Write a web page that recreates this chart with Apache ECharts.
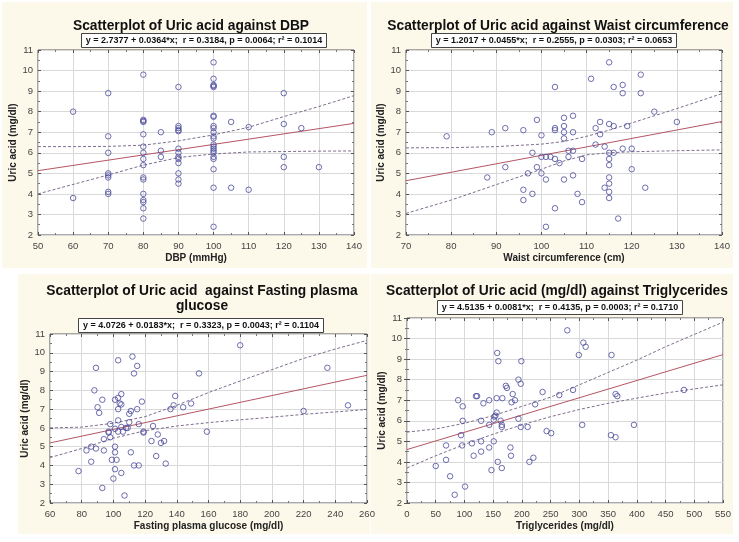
<!DOCTYPE html>
<html><head><meta charset="utf-8">
<script src="https://cdn.jsdelivr.net/npm/echarts@6/dist/echarts.min.js"></script>
<style>html,body{margin:0;padding:0;background:#fff}#c{width:739px;height:542px}</style>
</head><body><div id="c"></div>
<script>
// ---------- Panel 1: DBP ----------
const dbpX = [60,60,
  70,70,70,70,70,70,70,70,
  80,80,80,80,80,80,80,80,80,80,80,80,80,80,80,80,
  85,85,85,
  90,90,90,90,90,90,90,90,90,90,90,90,90,
  100,100,100,100,100,100,100,100,100,100,100,100,100,100,100,100,100,100,100,100,100,100,
  105,105,110,110,120,120,120,120,125,130];
const dbpY = [8.0,3.8,
  8.9,6.8,6.0,5.0,4.9,4.8,4.1,4.0,
  9.8,7.6,7.55,7.5,6.9,6.3,6.0,5.7,5.4,4.8,4.7,4.0,3.7,3.6,3.3,2.8,
  7.0,6.1,5.8,
  9.2,7.3,7.2,7.1,7.05,6.2,6.0,5.8,5.7,5.5,5.0,4.7,4.5,
  10.4,9.6,9.3,9.25,9.2,7.8,7.75,7.3,7.2,7.0,6.8,6.7,6.4,6.3,6.2,6.1,6.0,5.8,5.7,5.2,4.3,2.4,
  7.5,4.3,7.25,4.2,8.9,7.4,5.8,5.3,7.2,5.3];
const dbpFitX = [50,140], dbpFitY = [5.13,7.43];
const dbpBandX = [50,60,70,80,90,100,110,120,130,140];
const dbpUpper = [6.3,6.3,6.31,6.37,6.58,6.87,7.24,7.76,8.25,8.78];
const dbpLower = [4.0,4.46,4.92,5.4,5.77,5.94,6.04,6.06,6.08,6.09];

// ---------- Panel 2: Waist circumference ----------
const waistX = [79,88,89,92,92,96,96,96,97,98,98,99,99,100,100,100,101,101,101,102,
  103,103,103,103,103,104,105,105,105,105,105,106,106,107,107,107,107,108,109,109,
  111,112,112,113,113,114,114,115,115,115,115,115,115,115,115,115,116,116,116,117,
  118,118,118,119,120,120,122,122,123,125,130];
const waistY = [6.8,4.8,7.0,7.2,5.3,7.1,4.2,3.7,5.0,6.0,4.0,7.6,5.3,6.85,5.8,5.0,5.8,4.7,2.4,5.8,
  9.2,7.2,7.1,5.7,3.3,5.5,7.7,7.3,7.0,6.7,4.7,6.1,5.8,7.8,7.0,6.1,4.9,4.0,5.7,3.6,
  9.6,7.2,6.4,7.5,6.9,6.3,4.3,10.4,7.4,6.0,5.7,5.4,4.8,4.5,4.1,3.8,9.2,7.3,6.0,2.8,
  9.3,8.9,6.2,7.3,6.2,5.2,9.8,8.9,4.3,8.0,7.5];
const waistFitX = [70,140], waistFitY = [4.64,7.52];
const waistBandX = [70,80,90,100,105,110,115,120,130,140];
const waistUpper = [6.24,6.25,6.3,6.42,6.55,6.8,7.1,7.45,8.15,8.88];
const waistLower = [3.05,3.7,4.45,5.2,5.6,5.9,6.0,6.05,6.1,6.14];

// ---------- Panel 3: Fasting plasma glucose ----------
const gluX = [78,83,86,86,88,89,89,90,91,93,93,94,94,97,97,98,98,99,100,101,
  101,101,101,101,102,103,103,103,103,103,104,105,105,105,105,106,107,108,109,110,
  110,111,111,112,113,113,115,115,116,116,118,119,119,125,124,127,128,130,132,133,
  136,138,139,144,149,154,159,180,220,235,248];
const gluY = [3.7,4.8,5.0,4.2,8.0,9.2,4.9,7.1,6.8,7.5,2.8,4.8,5.4,5.8,5.75,6.2,5.5,4.3,3.3,7.5,
  5.95,5.0,4.7,3.8,4.3,9.6,7.6,7.0,6.4,5.8,7.3,7.25,7.8,3.6,6.05,5.8,2.4,6.0,6.0,6.75,
  6.3,6.9,4.7,9.8,4.0,8.9,9.3,7.0,6.2,4.0,7.4,5.8,5.75,6.1,5.3,4.5,5.65,5.2,5.3,4.1,
  7.0,7.2,7.7,7.1,7.3,8.9,5.8,10.4,6.9,9.2,7.2];
const gluFitX = [60,260], gluFitY = [5.2,8.8];
const gluBandX = [60,80,100,120,140,160,180,200,220,240,260];
const gluUpper = [6.0,6.04,6.25,6.6,7.2,7.88,8.5,9.1,9.7,10.2,10.66];
const gluLower = [4.42,4.9,5.45,5.85,6.1,6.28,6.43,6.57,6.72,6.85,6.98];

// ---------- Panel 4: Triglycerides ----------
const tgX = [50,68,68,75,83,89,94,96,97,97,101,113,116,120,122,129,129,129,133,143,
  143,143,147,151,151,152,154,156,157,156,158,159,172,174,163,165,165,166,165,181,
  180,184,182,188,194,198,199,194,198,210,213,220,223,236,243,251,265,279,289,299,
  305,307,311,356,355,363,363,366,395,482];
const tgY = [3.8,4.8,4.1,3.3,2.4,7.0,5.3,4.8,6.7,6.0,2.8,4.9,4.3,7.2,7.2,6.0,5.0,4.5,6.85,7.0,
  5.8,4.7,3.6,5.0,6.05,6.2,6.25,6.4,9.3,7.1,4.0,8.9,7.7,7.6,6.0,5.8,5.7,7.1,3.7,4.3,
  4.7,7.3,6.9,7.0,8.0,7.8,8.9,6.1,5.7,5.7,4.0,4.2,6.8,7.4,5.5,5.4,7.25,10.4,7.5,9.2,
  5.8,9.8,9.6,9.2,5.3,5.2,7.3,7.2,5.8,7.5];
const tgFitX = [0,550], tgFitY = [4.6,9.22];
const tgBandX = [0,50,100,150,200,250,300,350,400,450,500,550];
const tgUpper = [5.45,5.6,5.88,6.25,6.7,7.15,7.75,8.35,8.95,9.6,10.2,10.8];
const tgLower = [3.7,4.3,4.85,5.35,5.8,6.2,6.55,6.85,7.1,7.35,7.55,7.75];

// ---------- Text ----------
const titles = ['Scatterplot of Uric acid against DBP',
  'Scatterplot of Uric acid against Waist circumference',
  'Scatterplot of Uric acid  against Fasting plasma\nglucose',
  'Scatterplot of Uric acid (mg/dl) against Triglycerides'];
const equations = ['y = 2.7377 + 0.0364*x;  r = 0.3184, p = 0.0064; r\u00B2 = 0.1014',
  'y = 1.2017 + 0.0455*x;  r = 0.2555, p = 0.0303; r\u00B2 = 0.0653',
  'y = 4.0726 + 0.0183*x;  r = 0.3323, p = 0.0043; r\u00B2 = 0.1104',
  'y = 4.5135 + 0.0081*x;  r = 0.4135, p = 0.0003; r\u00B2 = 0.1710'];
const xNames = ['DBP (mmHg)','Waist circumference (cm)','Fasting plasma glucose (mg/dl)','Triglycerides (mg/dl)'];
const yName = 'Uric acid (mg/dl)';
const xRanges = [[50,140,10],[70,140,10],[60,260,20],[0,550,50]];
const yRange = [2,11,1];

const pairs = (xs, ys) => xs.map((v,i)=>[v, ys[i]]);
const datasets = [
  {x:dbpX,y:dbpY,fx:dbpFitX,fy:dbpFitY,bx:dbpBandX,up:dbpUpper,lo:dbpLower},
  {x:waistX,y:waistY,fx:waistFitX,fy:waistFitY,bx:waistBandX,up:waistUpper,lo:waistLower},
  {x:gluX,y:gluY,fx:gluFitX,fy:gluFitY,bx:gluBandX,up:gluUpper,lo:gluLower},
  {x:tgX,y:tgY,fx:tgFitX,fy:tgFitY,bx:tgBandX,up:tgUpper,lo:tgLower}];

// ---------- Layout ----------
const grids = [
  {left:38,top:50,width:316,height:185},
  {left:406,top:50,width:316,height:185},
  {left:50,top:334,width:317,height:169},
  {left:407,top:318,width:316,height:185}];
const titlePos = [[186,14],[553,14],[197,279],[552,279]];
const eqPos = [[199,33],[549,33],[196,318],[555,300]];
const bgRects = [[2,2,365,266],[371,2,362,266],[18,274,352,260],[371,274,362,260]];

const FONT = 'Liberation Sans, Arial, sans-serif';
const option = {
  animation:false,
  backgroundColor:'#fff',
  graphic: bgRects.map(r=>({type:'rect',z:-100,silent:true,shape:{x:r[0],y:r[1],width:r[2],height:r[3]},style:{fill:'#fcf8ea'}})),
  title: [],
  grid: grids.map(g=>Object.assign({show:true,backgroundColor:'#fff',borderColor:'#555',borderWidth:1},g)),
  xAxis: [], yAxis: [], series: []
};
titles.forEach((t,i)=>{
  option.title.push({text:t,left:titlePos[i][0],top:titlePos[i][1],textAlign:'center',
    textStyle:{fontFamily:FONT,fontSize:13.8,fontWeight:'bold',color:'#111',lineHeight:15}});
  option.title.push({text:equations[i],left:eqPos[i][0],top:eqPos[i][1],textAlign:'center',
    padding:[2,5,2,5],borderColor:'#444',borderWidth:1,backgroundColor:'#fff',
    textStyle:{fontFamily:FONT,fontSize:9,fontWeight:'bold',color:'#111',lineHeight:11}});
});
const lbl = {fontFamily:FONT,fontSize:9.5,color:'#444'};
datasets.forEach((d,i)=>{
  const xr = xRanges[i];
  const common = {type:'value',gridIndex:i};
  option.xAxis.push(Object.assign({},common,{min:xr[0],max:xr[1],interval:xr[2],position:'bottom',
    name:xNames[i],nameLocation:'middle',nameGap:18,
    nameTextStyle:{fontFamily:FONT,fontSize:10,fontWeight:'bold',color:'#222'},
    axisLine:{show:false},axisTick:{show:true,inside:true,length:3,lineStyle:{color:'#555'}},
    minorTick:{show:true,splitNumber:2,length:2,lineStyle:{color:'#777'}},
    axisLabel:Object.assign({margin:6,showMaxLabel:true,showMinLabel:true},lbl),
    splitLine:{show:true,lineStyle:{color:'#d9d9d9',width:1}}}));
  option.xAxis.push(Object.assign({},common,{min:xr[0],max:xr[1],interval:xr[2],position:'top',
    axisLine:{show:false},axisTick:{show:true,inside:true,length:3,lineStyle:{color:'#555'}},
    minorTick:{show:true,splitNumber:2,length:2,lineStyle:{color:'#777'}},
    axisLabel:{show:false},splitLine:{show:false}}));
  option.yAxis.push(Object.assign({},common,{min:yRange[0],max:yRange[1],interval:yRange[2],position:'left',
    name:yName,nameLocation:'middle',nameGap:11,
    nameTextStyle:{fontFamily:FONT,fontSize:10,fontWeight:'bold',color:'#222'},
    axisLine:{show:false},axisTick:{show:true,inside:true,length:3,lineStyle:{color:'#555'}},
    minorTick:{show:true,splitNumber:2,length:2,lineStyle:{color:'#777'}},
    axisLabel:Object.assign({margin:5},lbl),
    splitLine:{show:true,lineStyle:{color:'#d9d9d9',width:1}}}));
  option.yAxis.push(Object.assign({},common,{min:yRange[0],max:yRange[1],interval:yRange[2],position:'right',
    axisLine:{show:false},axisTick:{show:true,inside:true,length:3,lineStyle:{color:'#555'}},
    minorTick:{show:true,splitNumber:2,length:2,lineStyle:{color:'#777'}},
    axisLabel:{show:false},splitLine:{show:false}}));
  const xi = i*2, yi = i*2;
  option.series.push({type:'line',xAxisIndex:xi,yAxisIndex:yi,data:pairs(d.bx,d.up),showSymbol:false,
    smooth:false,lineStyle:{color:'#7f6e8e',width:1,type:[3,2]},z:2});
  option.series.push({type:'line',xAxisIndex:xi,yAxisIndex:yi,data:pairs(d.bx,d.lo),showSymbol:false,
    smooth:false,lineStyle:{color:'#7f6e8e',width:1,type:[3,2]},z:2});
  option.series.push({type:'line',xAxisIndex:xi,yAxisIndex:yi,data:pairs(d.fx,d.fy),showSymbol:false,
    lineStyle:{color:'#b45664',width:1},z:3});
  option.series.push({type:'scatter',xAxisIndex:xi,yAxisIndex:yi,data:pairs(d.x,d.y),
    symbol:'circle',symbolSize:5.5,itemStyle:{color:'rgba(0,0,0,0)',borderColor:'#4a4a9c',borderWidth:1},z:4});
});
const chart = echarts.init(document.getElementById('c'),null,{renderer:'canvas'});
chart.setOption(option);
</script></body></html>
